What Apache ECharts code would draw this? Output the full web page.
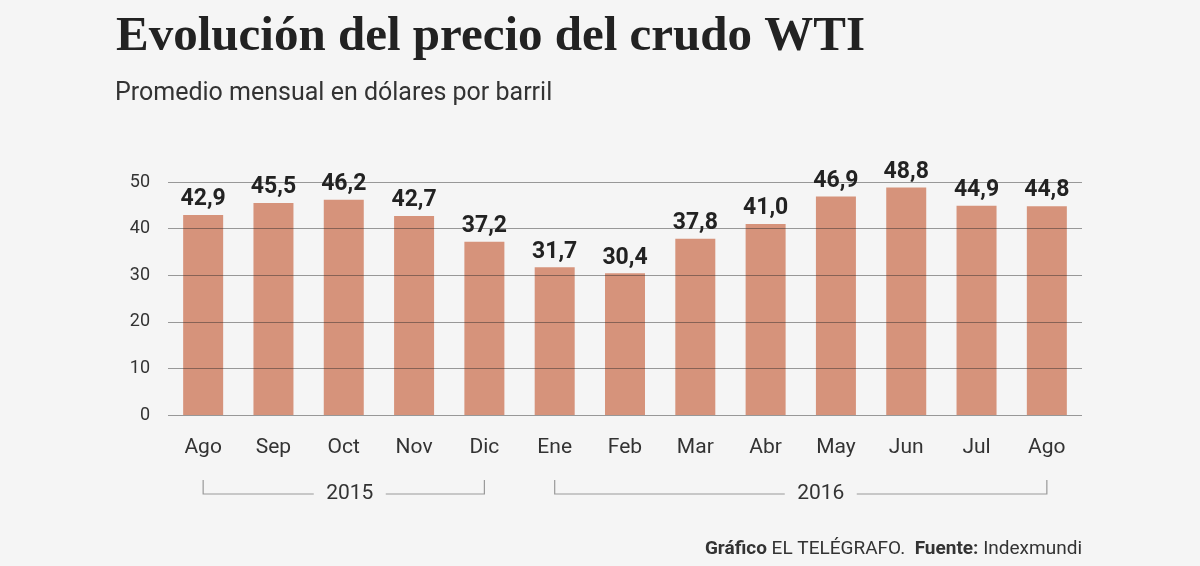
<!DOCTYPE html>
<html>
<head>
<meta charset="utf-8">
<script src="https://cdn.jsdelivr.net/npm/echarts@6/dist/echarts.min.js"></script>
<style>
  html, body { margin: 0; padding: 0; background: #f5f5f5; }
  #chart { width: 1200px; height: 566px; }
</style>
</head>
<body>
<div id="chart"></div>
<script>
const months = ['Ago', 'Sep', 'Oct', 'Nov', 'Dic', 'Ene', 'Feb', 'Mar', 'Abr', 'May', 'Jun', 'Jul', 'Ago'];
const prices = [42.9, 45.5, 46.2, 42.7, 37.2, 31.7, 30.4, 37.8, 41.0, 46.9, 48.8, 44.9, 44.8];
// year groups: label, first and last category index
const years = [
  { label: '2015', from: 0, to: 4 },
  { label: '2016', from: 5, to: 12 },
];

const BAR = '#d6937b';
const FONT = 'Roboto, "Noto Sans", sans-serif';

const chart = echarts.init(document.getElementById('chart'));

const fmt = v => v.toFixed(1).replace('.', ',');

chart.setOption({
  backgroundColor: '#f5f5f5',
  animation: false,
  title: [
    {
      text: 'Evolución del precio del crudo WTI',
      left: 111, top: 8,
      textStyle: { fontFamily: '"Liberation Serif", serif', fontWeight: 'bold', fontSize: 49, color: '#222' },
    },
    {
      text: 'Promedio mensual en dólares por barril',
      left: 110, top: 76,
      textStyle: { fontFamily: FONT, fontWeight: 'normal', fontSize: 25, color: '#333' },
    },
    {
      text: '{b|Gráfico} EL TELÉGRAFO.  {b|Fuente:} Indexmundi',
      right: 113, top: 535,
      textStyle: {
        fontFamily: FONT, fontWeight: 'normal', fontSize: 19, color: '#333',
        rich: { b: { fontFamily: FONT, fontWeight: 'bold', fontSize: 19, color: '#333' } },
      },
    },
  ],
  grid: { left: 168, right: 118, top: 182, bottom: 151 },
  xAxis: {
    type: 'category',
    data: months,
    axisTick: { show: false },
    axisLine: { show: false },
    axisLabel: { margin: 22, fontFamily: FONT, fontSize: 21, color: '#333' },
  },
  yAxis: {
    type: 'value',
    min: 0, max: 50, interval: 10,
    z: 5,
    axisLine: { show: false },
    axisTick: { show: false },
    axisLabel: { margin: 18, fontFamily: FONT, fontSize: 18, color: '#333' },
    splitLine: { lineStyle: { color: 'rgba(40,40,40,0.45)', width: 1 } },
  },
  series: [{
    type: 'bar',
    data: prices,
    barWidth: 40,
    z: 2,
    itemStyle: { color: BAR },
    label: {
      show: true,
      position: 'top',
      distance: 4,
      formatter: p => fmt(p.value),
      fontFamily: FONT, fontWeight: 'bold', fontSize: 23, color: '#222',
    },
  }],
});

// brackets for the years under the month labels
function drawYears() {
  const yTop = 480, yLine = 494;
  const shifts = [6, 20]; // label offset from bracket middle
  const elements = [];
  years.forEach((y, i) => {
    const x1 = chart.convertToPixel({ xAxisIndex: 0 }, y.from);
    const x2 = chart.convertToPixel({ xAxisIndex: 0 }, y.to);
    const mid = (x1 + x2) / 2 + shifts[i];
    const half = 36;
    const st = { stroke: '#999', lineWidth: 1.2, fill: null };
    elements.push(
      { type: 'polyline', shape: { points: [[x1, yTop], [x1, yLine], [mid - half, yLine]] }, style: st },
      { type: 'polyline', shape: { points: [[mid + half, yLine], [x2, yLine], [x2, yTop]] }, style: st },
      { type: 'text', x: mid, y: yLine, style: { text: y.label, fill: '#333', font: '21px ' + FONT, align: 'center', verticalAlign: 'middle' } }
    );
  });
  chart.setOption({ graphic: elements });
}
drawYears();
</script>
</body>
</html>
